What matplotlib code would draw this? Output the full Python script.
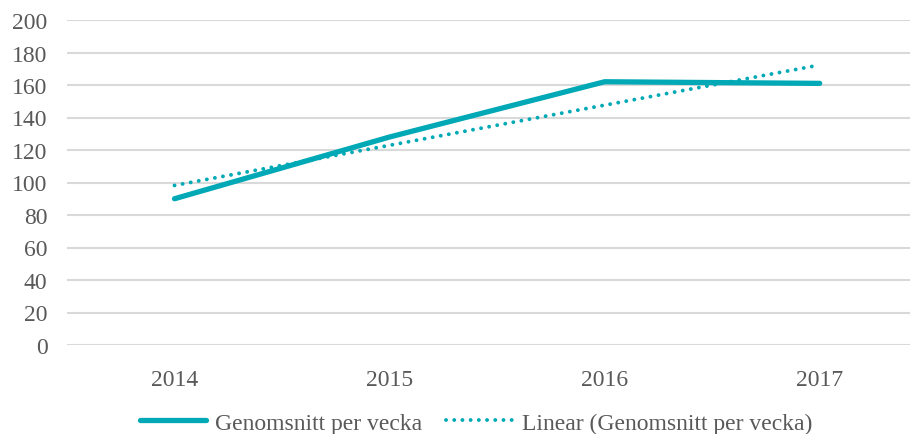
import matplotlib
matplotlib.use("Agg")
import matplotlib.pyplot as plt
import numpy as np
from matplotlib.lines import Line2D

years = ["2014", "2015", "2016", "2017"]
values = [90, 128, 162, 161]
series_name = "Genomsnitt per vecka"
trend_name = "Linear (Genomsnitt per vecka)"
yticks = [0, 20, 40, 60, 80, 100, 120, 140, 160, 180, 200]

color = "#00A9B5"
text_color = "#595959"
grid_color = "#D9D9D9"

plt.rcParams['font.family'] = ['Liberation Serif', 'DejaVu Serif']

fig = plt.figure(figsize=(9.11, 4.35), dpi=100)
ax = fig.add_axes([67/911, 1 - 346/435, (910 - 67)/911, (346 - 21)/435])

x = np.arange(len(years))
coef = np.polyfit(x, values, 1)
trend = np.polyval(coef, x)

dot_style = (0, (0.01, 2.1))
ax.plot(x, values, color=color, lw=3.8, solid_capstyle='round', solid_joinstyle='round', zorder=3)
ax.plot(x, trend, color=color, lw=2.8, linestyle=dot_style, dash_capstyle='round', zorder=3)

ax.set_ylim(0, 200)
ax.set_xlim(-0.5, 3.42)
ax.set_yticks(yticks)
ax.set_xticks(x)
ax.set_xticklabels(years)
ax.yaxis.grid(True, color=grid_color, lw=1.5)
ax.set_axisbelow(True)
for s in ax.spines.values():
    s.set_visible(False)
ax.tick_params(axis='both', length=0, labelsize=17, colors=text_color)
ax.tick_params(axis='x', pad=17)
ax.tick_params(axis='y', pad=14)

handles = [
    Line2D([0], [0], color=color, lw=3.8, solid_capstyle='round'),
    Line2D([0], [0], color=color, lw=2.8, linestyle=dot_style, dash_capstyle='round'),
]
fig.legend(handles, [series_name, trend_name], loc='center', bbox_to_anchor=(476/911, 1 - 424/435),
           ncol=2, frameon=False, fontsize=17, labelcolor=text_color,
           handlelength=2.8, handletextpad=0.4, columnspacing=1.0)

fig.savefig("out.png", dpi=100)
